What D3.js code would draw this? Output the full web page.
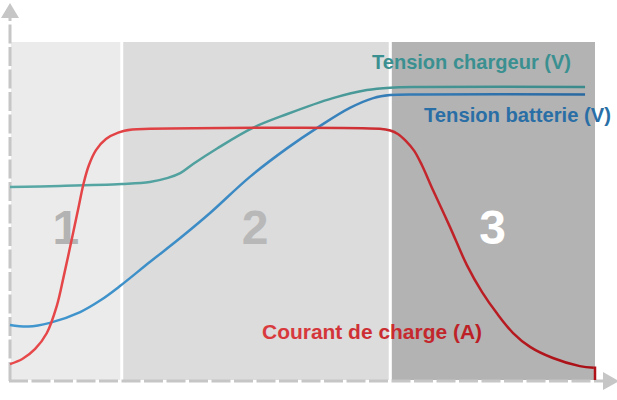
<!DOCTYPE html>
<html>
<head>
<meta charset="utf-8">
<script src="https://cdn.jsdelivr.net/npm/d3@7"></script>
<style>
	html, body {margin: 0; padding: 0; background: #ffffff;}
	svg {display: block;}
	text {font-family: "Liberation Sans", Arial, sans-serif; font-weight: bold;}
</style>
</head>
<body>
<svg class="svgCharge"></svg>
<script>
// Phases de charge (x en % du temps, y en % de l'echelle)
var phaseNames = ["1", "2", "3"];
var phaseBounds = [0, 19.1, 65.0, 100];
var phaseColors = ["#ebebeb", "#dcdcdc", "#b3b3b3"];
var phaseTextColors = ["#b3b3b3", "#b8b8b8", "#ffffff"];

// Courant de charge (A)
var courantX = [0, 2.1, 4.3, 6.3, 8.0, 9.2, 10.6, 11.8, 12.6, 13.5, 14.7, 16.4, 18.5, 20.9, 23.9, 63.2, 65.0, 66.3, 67.7, 69.1, 70.4, 72.3, 75.2, 78.1, 80.7, 83.2, 86.0, 88.9, 92.8, 97.4, 99.8];
var courantY = [4.7, 6.2, 9.2, 13.9, 21.9, 30.8, 42.0, 51.8, 58.3, 63.6, 68.0, 71.3, 73.2, 74.1, 74.3, 74.3, 73.8, 72.8, 70.7, 67.8, 63.6, 56.2, 45.3, 34.0, 26.0, 19.8, 13.9, 9.8, 6.5, 4.1, 3.6];

// Tension chargeur (V)
var chargeurX = [0, 8.5, 19.1, 23.9, 27.0, 29.1, 31.3, 35.4, 41.5, 47.4, 55.2, 61.0, 65.0, 70.1, 98.3];
var chargeurY = [57.1, 57.4, 58.0, 58.6, 59.8, 61.2, 63.9, 68.5, 74.6, 78.7, 83.4, 85.8, 86.5, 86.7, 86.7];

// Tension batterie (V)
var batterieX = [0, 3.1, 6.8, 12.0, 15.4, 18.8, 23.9, 29.1, 34.2, 41.0, 47.4, 52.5, 58.1, 62.1, 65.0, 70.1, 98.3];
var batterieY = [16.3, 15.8, 16.9, 20.1, 23.5, 27.8, 34.9, 42.0, 49.4, 60.1, 68.6, 74.6, 80.5, 83.4, 84.3, 84.5, 84.5];

var labels = ["Tension chargeur (V)", "Tension batterie (V)", "Courant de charge (A)"];

function startScript() {
	"use strict";
	var width = 617, height = 400;
	var svg = d3.select(".svgCharge")
		.attr("width", width)
		.attr("height", height);

	// echelles : tout passe par x et y
	var x = d3.scaleLinear().domain([0, 100]).range([10, 595]);
	var y = d3.scaleLinear().domain([0, 100]).range([380, 42]);

	// ---- degrades des courbes ----
	var defs = svg.append("defs");
	function grad(id, c1, c2, c3) {
		var g = defs.append("linearGradient")
			.attr("id", id)
			.attr("gradientUnits", "userSpaceOnUse")
			.attr("x1", x(0)).attr("x2", x(100))
			.attr("y1", 0).attr("y2", 0);
		g.append("stop").attr("offset", "0%").attr("stop-color", c1);
		g.append("stop").attr("offset", "50%").attr("stop-color", c2);
		g.append("stop").attr("offset", "100%").attr("stop-color", c3);
	}
	grad("gradRouge", "#e8494b", "#d7383c", "#a80e15");
	grad("gradBleu", "#4197cf", "#3a86c0", "#2867a0");
	grad("gradTeal", "#58a8a6", "#4c9c9b", "#3a8a8b");

	// ---- zones de phase ----
	var phases = phaseNames.map(function(n, i) {
		return {name: n, x0: phaseBounds[i], x1: phaseBounds[i + 1], i: i};
	});
	svg.selectAll("rect.phase")
		.data(phases)
		.enter().append("rect")
		.attr("class", "phase")
		.attr("x", function(d) {return x(d.x0) + 1;})
		.attr("y", y(100))
		.attr("width", function(d) {return x(d.x1) - x(d.x0) - 1;})
		.attr("height", y(0) - y(100))
		.attr("fill", function(d) {return phaseColors[d.i];});

	// separateurs blancs
	svg.selectAll("line.sep")
		.data(phaseBounds.slice(1, 3))
		.enter().append("line")
		.attr("class", "sep")
		.attr("x1", function(d) {return x(d);})
		.attr("x2", function(d) {return x(d);})
		.attr("y1", y(100))
		.attr("y2", y(0))
		.attr("stroke", "#ffffff")
		.attr("stroke-width", 3);

	svg.selectAll("text.phaseNum")
		.data(phases)
		.enter().append("text")
		.attr("class", "phaseNum")
		.attr("x", function(d) {return x((d.x0 + d.x1) / 2) + (d.i === 1 ? -1 : 0);})
		.attr("y", 244)
		.attr("text-anchor", "middle")
		.attr("font-size", 48)
		.attr("fill", function(d) {return phaseTextColors[d.i];})
		.text(function(d) {return d.name;});

	// ---- axes (pointilles + fleches) ----
	var axisColor = "#c6c6c6";
	svg.append("line")
		.attr("x1", x(0)).attr("y1", y(0) + 1)
		.attr("x2", x(0)).attr("y2", 18)
		.attr("stroke", axisColor).attr("stroke-width", 3)
		.attr("stroke-dasharray", "19,3.5");
	svg.append("path")
		.attr("d", "M" + (x(0) - 9) + ",18L" + x(0) + ",3L" + (x(0) + 9) + ",18Z")
		.attr("fill", axisColor);
	svg.append("line")
		.attr("x1", x(0) - 1).attr("y1", y(0) + 1)
		.attr("x2", 603).attr("y2", y(0) + 1)
		.attr("stroke", axisColor).attr("stroke-width", 3)
		.attr("stroke-dasharray", "19,3.5");
	svg.append("path")
		.attr("d", "M603," + (y(0) + 1 - 9) + "L619," + (y(0) + 1) + "L603," + (y(0) + 1 + 9) + "Z")
		.attr("fill", axisColor);

	// ---- courbes ----
	var line = d3.line()
		.x(function(d) {return x(d[0]);})
		.y(function(d) {return y(d[1]);})
		.curve(d3.curveCatmullRom.alpha(0.5));

	svg.append("path")
		.datum(d3.zip(chargeurX, chargeurY))
		.attr("d", line)
		.attr("fill", "none")
		.attr("stroke", "url(#gradTeal)")
		.attr("stroke-width", 2.5);

	svg.append("path")
		.datum(d3.zip(batterieX, batterieY))
		.attr("d", line)
		.attr("fill", "none")
		.attr("stroke", "url(#gradBleu)")
		.attr("stroke-width", 2.5);

	var courant = d3.zip(courantX, courantY);
	var last = courant[courant.length - 1];
	svg.append("path")
		.datum(courant)
		.attr("d", line)
		.attr("fill", "none")
		.attr("stroke", "url(#gradRouge)")
		.attr("stroke-width", 2.5);
	// petite marche finale jusqu'a l'axe
	svg.append("path")
		.datum([last, [100, last[1]], [100, 0]])
		.attr("d", d3.line().x(function(d) {return x(d[0]);}).y(function(d) {return y(d[1]);}))
		.attr("fill", "none")
		.attr("stroke", "#b01018")
		.attr("stroke-width", 2.5);

	// ---- libelles ----
	var lab = [
		{t: labels[0], x: 372, y: 69, size: 20, w: 199, fill: "#3a9090"},
		{t: labels[1], x: 424, y: 122, size: 20, w: 187, fill: "#2a6ea6"},
		{t: labels[2], x: 262, y: 339, size: 21, w: 220, fill: "url(#gradRouge)"}
	];
	svg.selectAll("text.lab")
		.data(lab)
		.enter().append("text")
		.attr("class", "lab")
		.attr("x", function(d) {return d.x;})
		.attr("y", function(d) {return d.y;})
		.attr("font-size", function(d) {return d.size;})
		.attr("textLength", function(d) {return d.w;})
		.attr("lengthAdjust", "spacingAndGlyphs")
		.attr("fill", function(d) {return d.fill;})
		.text(function(d) {return d.t;});
}
startScript();
</script>
</body>
</html>
